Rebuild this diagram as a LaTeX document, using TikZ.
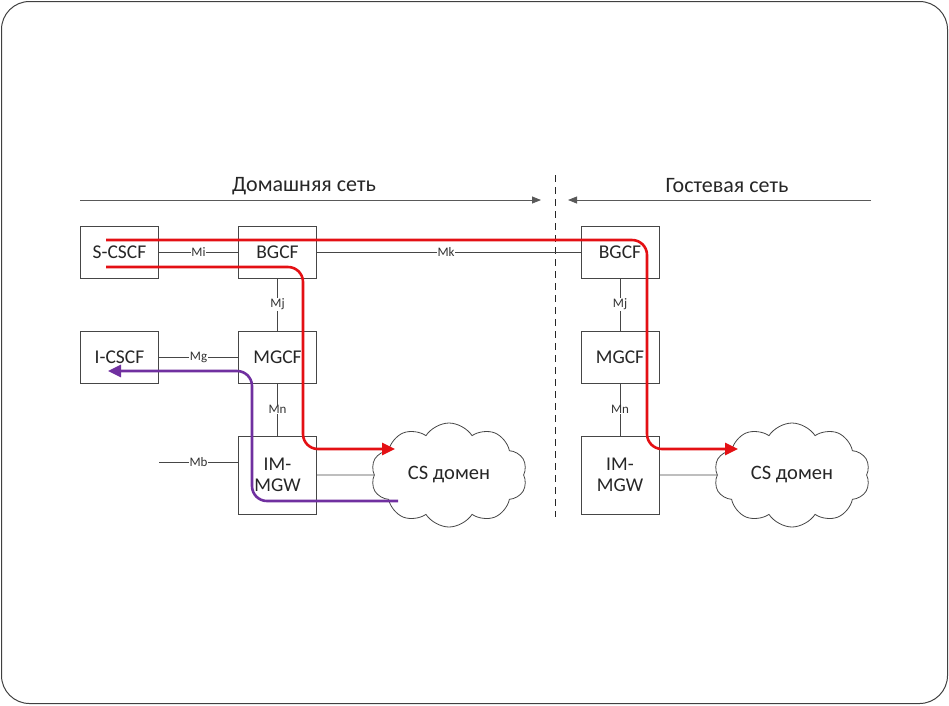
\documentclass[tikz,border=0pt]{standalone}
\usepackage{fontspec}
\setmainfont{Carlito}
\usetikzlibrary{shapes.symbols,arrows.meta}
\definecolor{redpath}{RGB}{228,16,20}
\definecolor{purplepath}{RGB}{112,48,160}
\definecolor{linegray}{RGB}{70,70,70}
\begin{document}
\begin{tikzpicture}[x=1pt,y=-1pt,
  box/.style={draw=linegray,line width=0.9pt,minimum width=78pt,minimum height=52pt,inner sep=1pt,font=\fontsize{19.5}{21}\selectfont,text=black!85,align=center},
  tallbox/.style={box,minimum height=78pt},
  link/.style={draw=linegray,line width=0.7pt},
  lbl/.style={fill=white,inner sep=0.5pt,font=\fontsize{13}{14}\selectfont,text=black!80},
  csd/.style={cloud,cloud puffs=10,cloud puff arc=115,aspect=1.5,draw=linegray,line width=0.8pt,minimum width=156pt,minimum height=104pt,font=\fontsize{20.5}{22}\selectfont,text=black!85},
  redarrow/.style={draw=redpath,line width=2.6pt,rounded corners=15pt,-{Triangle[length=13pt,width=12pt]}},
  purplearrow/.style={draw=purplepath,line width=2.6pt,rounded corners=15pt,-{Triangle[length=13pt,width=12pt]}},
  head/.style={draw=black!65,line width=0.8pt,-{Triangle[length=9pt,width=7pt]}},
  headtxt/.style={font=\fontsize{22}{24}\selectfont,text=black!85}
]
\useasboundingbox (0,0) rectangle (949,705);
\draw[draw=black!75,line width=1pt,rounded corners=28pt] (1.5,1.5) rectangle (947.5,703.5);

% headers
\coordinate (h1s) at (80,200);
\coordinate (h1e) at (541,200);
\coordinate (h2s) at (871,200);
\coordinate (h2e) at (568,200);
\draw[head] (h1s) -- (h1e);
\draw[head] (h2s) -- (h2e);
\node[headtxt] (home) at (304,186) {Домашняя сеть};
\node[headtxt] (guest) at (727,186) {Гостевая сеть};
\coordinate (dtop) at (555,175);
\coordinate (dbot) at (555,517);
\draw[black!85,line width=0.9pt,dash pattern=on 7pt off 5pt] (dtop) -- (dbot);

% boxes home
\node[box] (scscf) at (119.5,252) {S-CSCF};
\node[box] (bgcf) at (277.5,252) {BGCF};
\node[box] (icscf) at (119.5,357) {I-CSCF};
\node[box] (mgcf) at (277.5,357) {MGCF};
\node[tallbox] (mgw) at (277.5,475) {IM-\\MGW};
\node[csd] (cs1) at (449,475) {CS домен};
% guest
\node[box] (gbgcf) at (620,252) {BGCF};
\node[box] (gmgcf) at (620,357) {MGCF};
\node[tallbox] (gmgw) at (620,475) {IM-\\MGW};
\node[csd] (cs2) at (792,475) {CS домен};

% links
\draw[link] (scscf) -- node[lbl] {Mi} (bgcf);
\draw[link] (bgcf) -- node[lbl,pos=0.49] {Mk} (gbgcf);
\draw[link] (bgcf) -- node[lbl] {Mj} (mgcf);
\draw[link] (icscf) -- node[lbl] {Mg} (mgcf);
\draw[link] (mgcf) -- node[lbl] {Mn} (mgw);
\coordinate (mbs) at (159,462);
\draw[link] (mbs) -- node[lbl] {Mb} (mgw.west |- mbs);
\draw[link] (mgw.east) -- (cs1.west);
\draw[link] (gbgcf) -- node[lbl] {Mj} (gmgcf);
\draw[link] (gmgcf) -- node[lbl] {Mn} (gmgw);
\draw[link] (gmgw.east) -- (cs2.west);

% paths
\coordinate (r1s) at (106,240);
\coordinate (r1a) at (647,240);
\coordinate (r1b) at (647,449);
\coordinate (r1e) at (738,449);
\draw[redarrow] (r1s) -- (r1a) -- (r1b) -- (r1e);
\coordinate (r2s) at (106,267);
\coordinate (r2a) at (303,267);
\coordinate (r2b) at (303,449);
\coordinate (r2e) at (395,449);
\draw[redarrow] (r2s) -- (r2a) -- (r2b) -- (r2e);
\coordinate (ps) at (398,501);
\coordinate (pa) at (252,501);
\coordinate (pb) at (252,371);
\coordinate (pe) at (108,371);
\draw[purplearrow] (ps) -- (pa) -- (pb) -- (pe);
\end{tikzpicture}
\end{document}
